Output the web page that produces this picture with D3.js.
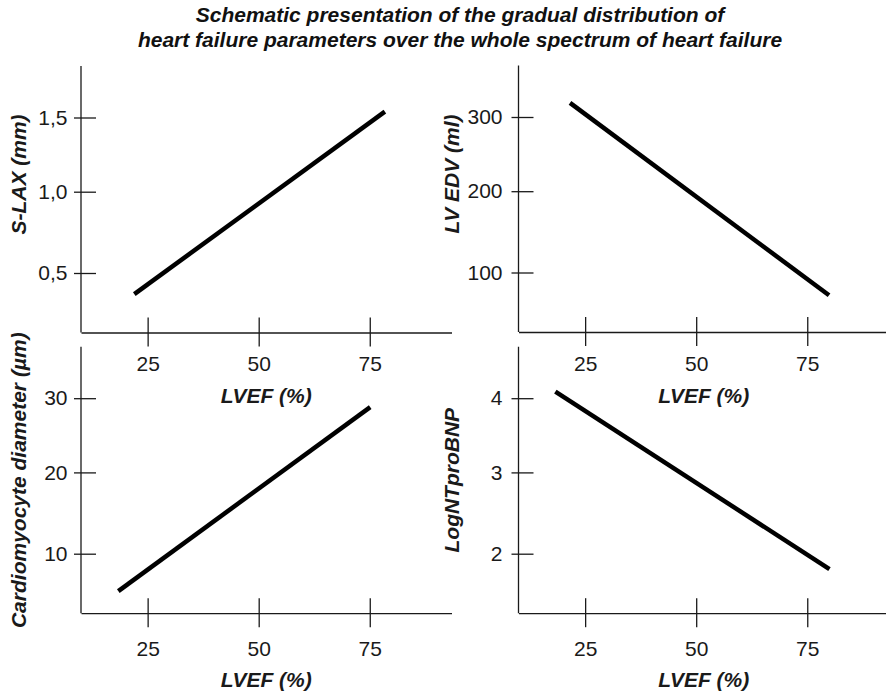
<!DOCTYPE html>
<html>
<head>
<meta charset="utf-8">
<title>Heart failure parameters over LVEF</title>
<style>
  body { margin: 0; background-color: #fff; }
  svg { display: block; font-family: "Liberation Sans", Arial, Helvetica, sans-serif; }
  .axis path, .axis line, .axis-line { stroke: #1a1a1a; stroke-width: 1.3px; }
  .axis text { font-size: 21px; fill: #1a1a1a; font-family: "Liberation Sans", Arial, sans-serif; }
  .label { font-size: 21px; font-weight: bold; font-style: italic; fill: #1a1a1a; }
  .title { font-size: 21px; font-weight: bold; font-style: italic; fill: #111; }
  .trend { fill: none; stroke: #000; stroke-width: 4.5px; }
</style>
</head>
<body>
<div id="viz"></div>
<script src="https://d3js.org/d3.v7.min.js"></script>
<script>

  // chart data
  var titleLines = [
    "Schematic presentation of the gradual distribution of",
    "heart failure parameters over the whole spectrum of heart failure"
  ];
  var xLabel = "LVEF (%)";
  var lvefExtent = [10, 93.4];
  var lvefTicks = [25, 50, 75];

  var yLabels = ["S-LAX (mm)", "LV EDV (ml)", "Cardiomyocyte diameter (\u00b5m)", "LogNTproBNP"];
  var yTicks = [[0.5, 1.0, 1.5], [100, 200, 300], [10, 20, 30], [2, 3, 4]];
  var yTickText = [["0,5", "1,0", "1,5"], ["100", "200", "300"], ["10", "20", "30"], ["2", "3", "4"]];

  // start / end of each schematic line (LVEF, value)
  var lineLvef = [[22, 78.4], [21.6, 79.9], [18.4, 75.1], [18.3, 80]];
  var lineValues = [[0.37, 1.54], [319, 72], [5.4, 28.8], [4.09, 1.81]];

  (function() {

    var width = 886, height = 692;
    var panelW = 370.5, panelH = 266.5;
    var originX = [81, 518.5, 81, 518.5];
    var originY = [66, 65.5, 346.7, 346.7];
    // the schematic y ticks are not evenly spaced in the original
    var yRange = [207, 125.7, 51.5];

    var svg = d3.select("#viz").append("svg")
        .attr("width", width)
        .attr("height", height);

    svg.selectAll(".title")
        .data(titleLines)
      .enter().append("text")
        .attr("class", "title")
        .attr("x", 460)
        .attr("y", function(d, i) { return i === 0 ? 22 : 46.5; })
        .style("text-anchor", "middle")
        .text(function(d) { return d; });

    var x = d3.scaleLinear()
        .domain(lvefExtent)
        .range([0, panelW]);

    yLabels.forEach(function(label, i) {
      var bottomRow = i > 1;
      var rightCol = i % 2 === 1;

      var y = d3.scaleLinear()
          .domain(yTicks[i])
          .range(yRange);

      var g = svg.append("g")
          .attr("transform", "translate(" + originX[i] + "," + originY[i] + ")");

      // x axis
      var xAxis = g.append("g")
          .attr("class", "axis")
          .attr("transform", "translate(0," + panelH + ")")
          .call(d3.axisBottom(x)
            .tickValues(lvefTicks)
            .tickSize(14)
            .tickSizeOuter(0)
            .tickPadding(bottomRow ? 13.5 : 10));
      xAxis.selectAll(".tick line").attr("y1", -15);

      // y axis
      var yAxis = g.append("g")
          .attr("class", "axis")
          .call(d3.axisLeft(y)
            .tickValues(yTicks[i])
            .tickFormat(function(d, j) { return yTickText[i][j]; })
            .tickSize(7)
            .tickSizeOuter(0)
            .tickPadding(rightCol ? 9 : 6.5));
      yAxis.select(".domain").remove();
      yAxis.selectAll(".tick line").attr("x1", 15);

      g.append("line")
          .attr("class", "axis-line")
          .attr("x1", 0).attr("x2", 0)
          .attr("y1", 0).attr("y2", panelH);

      // schematic line
      var pts = lineLvef[i].map(function(v, j) { return [v, lineValues[i][j]]; });
      g.append("path")
          .datum(pts)
          .attr("class", "trend")
          .attr("d", d3.line()
            .x(function(d) { return x(d[0]); })
            .y(function(d) { return y(d[1]); }));

      // labels
      g.append("text")
          .attr("class", "label")
          .attr("x", panelW / 2)
          .attr("y", panelH + (bottomRow ? 66 : 63.5))
          .attr("dy", "0.35em")
          .style("text-anchor", "middle")
          .text(xLabel);

      g.append("text")
          .attr("class", "label")
          .attr("transform", "translate(" + (rightCol ? -66.5 : -62) + "," + (bottomRow ? 133.5 : 108.5) + ") rotate(-90)")
          .attr("dy", "0.35em")
          .style("text-anchor", "middle")
          .text(label);
    });

  })();

</script>
</body>
</html>
